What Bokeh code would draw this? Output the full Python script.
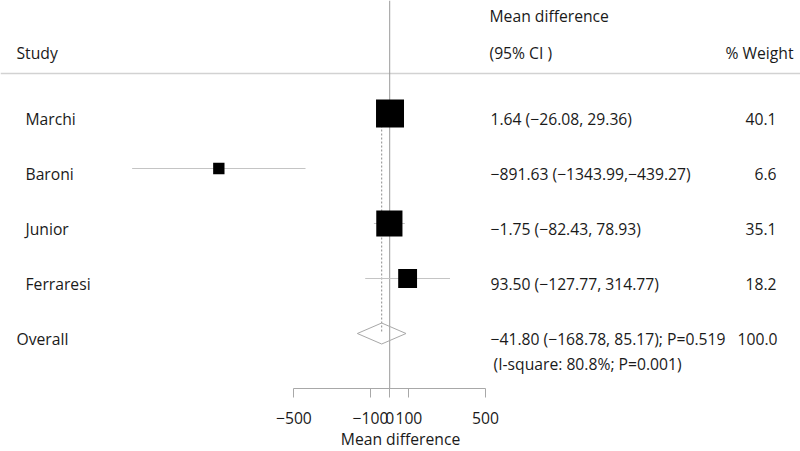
import numpy as np
from bokeh.plotting import figure
from bokeh.models import Range1d, Span, FixedTicker, ColumnDataSource, LinearAxis
from bokeh.core.properties import value
from bokeh.embed import file_html
from bokeh.resources import INLINE

# ---------------- data ----------------
studies = ["Marchi", "Baroni", "Junior", "Ferraresi"]
md = [1.64, -891.63, -1.75, 93.50]
ci_low = [-26.08, -1343.99, -82.43, -127.77]
ci_high = [29.36, -439.27, 78.93, 314.77]
weights = [40.1, 6.6, 35.1, 18.2]
effect_labels = ["1.64 (\u221226.08, 29.36)", "\u2212891.63 (\u22121343.99,\u2212439.27)",
                 "\u22121.75 (\u221282.43, 78.93)", "93.50 (\u2212127.77, 314.77)"]
weight_labels = ["40.1", "6.6", "35.1", "18.2"]

overall_name = "Overall"
overall_md = -41.80
overall_low = -168.78
overall_high = 85.17
overall_label = "\u221241.80 (\u2212168.78, 85.17); P=0.519"
overall_weight = "100.0"
het_label = "(I-square: 80.8%; P=0.001)"

x_ticks = [-500, -100, 0, 100, 500]
tick_labels = ["\u2212500", "\u2212100", "0", "100", "500"]

# ---------------- layout ----------------
FONT = value("Open Sans")
FS = "15.7px"
TXT = "#1a1a1a"

rows = list(range(1, len(studies) + 1))
overall_row = len(studies) + 1

W = 800
u = 5.218  # data units per pixel
x0_px = 389.2  # frame pixel of zero
xmin = -x0_px * u
xmax = xmin + W * u

row_px = 55.0
first_row_px = 113.0  # frame px of row 1
frame_h = 388
ytop = 1 - first_row_px / row_px
ybot = 1 + (frame_h - first_row_px) / row_px

p = figure(frame_width=W, frame_height=frame_h,
           x_range=Range1d(xmin, xmax), y_range=Range1d(ybot, ytop),
           x_axis_location=None, y_axis_location=None,
           output_backend="svg", toolbar_location=None,
           min_border=0, outline_line_color=None)
p.extra_x_ranges = {"px": Range1d(0, W)}
p.extra_y_ranges = {"py": Range1d(frame_h, 0)}
p.grid.visible = False

# separator under header
p.add_layout(Span(location=1 - 40 / row_px, dimension="width",
                  line_color="#d2d2d2", line_width=1.5, level="underlay"))
# null line
p.add_layout(Span(location=0, dimension="height", line_color="#9a9a9a", line_width=1,
                  level="underlay"))

# overall dashed line
p.segment(x0=[overall_md], y0=[rows[0]], x1=[overall_md], y1=[overall_row],
          line_color="#8a8a8a", line_dash="2 2", line_width=1)

# CIs
src = ColumnDataSource(dict(y=rows, md=md, lo=ci_low, hi=ci_high,
                            size=[4.42 * np.sqrt(w) for w in weights],
                            name=studies, eff=effect_labels, wt=weight_labels))
p.segment(x0="lo", y0="y", x1="hi", y1="y", source=src, line_color="#c4c4c4", line_width=1)
p.scatter(x="md", y="y", size="size", marker="square", source=src,
          fill_color="black", line_color=None)

# overall diamond
dh = 10.5 / row_px
p.patch(x=[overall_low, overall_md, overall_high, overall_md],
        y=[overall_row, overall_row - dh, overall_row, overall_row + dh],
        fill_color=None, line_color="#a8a8a8", line_width=1)

# texts
def txt(x, y, t, align="left", yoff=5, px_y=False):
    kw = dict(x_range_name="px")
    if px_y:
        kw["y_range_name"] = "py"
    p.text(x=x, y=y, text=t, text_font=FONT, text_font_size=FS, text_color=TXT,
           text_align=align, text_baseline="middle", y_offset=yoff, **kw)

txt([25] * len(studies), rows, studies)
txt([490] * len(studies), rows, effect_labels)
txt([776] * len(studies), rows, weight_labels, align="right")
txt([16], [overall_row], [overall_name])
txt([490], [overall_row], [overall_label])
txt([777], [overall_row], [overall_weight], align="right")
txt([493], [overall_row], [het_label], yoff=30)

# headers (canvas pixel coordinates)
txt([489], [15], ["Mean difference"], yoff=0, px_y=True)
txt([489], [52], ["(95% CI )"], yoff=0, px_y=True)
txt([16], [52], ["Study"], yoff=0, px_y=True)
txt([793], [52], ["% Weight"], align="right", yoff=0, px_y=True)

# axis
ax = LinearAxis(ticker=FixedTicker(ticks=x_ticks), bounds=(x_ticks[0], x_ticks[-1]),
                major_label_overrides={t: l for t, l in zip(x_ticks, tick_labels)},
                axis_label="Mean difference")
ax.axis_line_color = "#a8a8a8"
ax.major_tick_line_color = "#a8a8a8"
ax.major_tick_in = 0
ax.major_tick_out = 9
ax.minor_tick_out = 0
ax.minor_tick_in = 0
ax.major_label_standoff = 14
ax.axis_label_standoff = 1
ax.major_label_text_font = "Open Sans"
ax.major_label_text_font_size = FS
ax.major_label_text_color = TXT
ax.axis_label_text_font = "Open Sans"
ax.axis_label_text_font_size = FS
ax.axis_label_text_font_style = "normal"
ax.axis_label_text_color = TXT
p.add_layout(ax, "below")

open("out.html", "w").write(file_html(p, INLINE))
